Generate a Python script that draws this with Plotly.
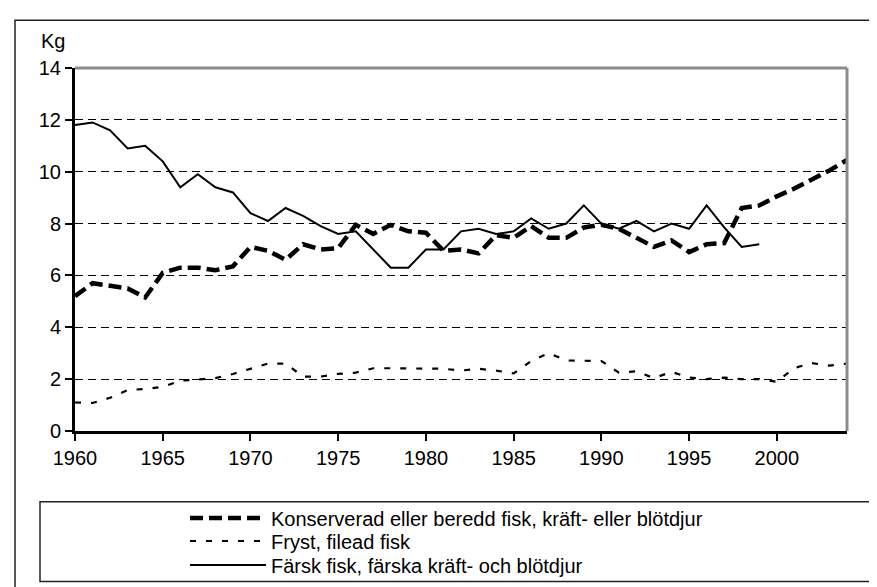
import plotly.graph_objects as go

years = list(range(1960, 2005))
years_fresh = list(range(1960, 2000))

konserverad = [5.2, 5.7, 5.6, 5.5, 5.15, 6.1, 6.3, 6.3, 6.2, 6.35,
               7.1, 6.95, 6.6, 7.2, 7.0, 7.05, 7.95, 7.6, 7.95, 7.7,
               7.65, 6.95, 7.0, 6.85, 7.55, 7.45, 7.9, 7.45, 7.45, 7.85,
               7.95, 7.8, 7.45, 7.1, 7.35, 6.9, 7.2, 7.25, 8.6, 8.7,
               9.05, 9.35, 9.7, 10.05, 10.45]

fryst = [1.1, 1.08, 1.28, 1.58, 1.62, 1.7, 1.94, 2.0, 2.04, 2.2,
         2.4, 2.6, 2.6, 2.1, 2.1, 2.2, 2.25, 2.42, 2.42, 2.42,
         2.42, 2.4, 2.33, 2.4, 2.33, 2.22, 2.7, 3.0, 2.72, 2.7,
         2.7, 2.25, 2.3, 2.04, 2.28, 2.06, 2.0, 2.06, 2.0, 2.0,
         1.9, 2.43, 2.62, 2.52, 2.6]

farsk = [11.8, 11.9, 11.6, 10.9, 11.0, 10.4, 9.4, 9.9, 9.4, 9.2,
         8.4, 8.1, 8.6, 8.3, 7.9, 7.6, 7.7, 7.0, 6.3, 6.3,
         7.0, 7.0, 7.7, 7.8, 7.6, 7.7, 8.2, 7.8, 8.0, 8.7,
         8.0, 7.8, 8.1, 7.7, 8.0, 7.8, 8.7, 7.85, 7.1, 7.2]

series_names = ["Konserverad eller beredd fisk, kräft- eller blötdjur",
                "Fryst, filead fisk",
                "Färsk fisk, färska kräft- och blötdjur"]

x_tick_vals = [1960, 1965, 1970, 1975, 1980, 1985, 1990, 1995, 2000]
y_tick_vals = [0, 2, 4, 6, 8, 10, 12, 14]
y_unit = "Kg"

FONT = "Liberation Sans, Arial, sans-serif"

# pixel geometry helpers
W, H = 877, 587
L, R, T, B = 67, 839, 60, 424


def px(xp):
    return (xp - L) / (R - L)


def py(yp):
    return (B - yp) / (B - T)


fig = go.Figure()
fig.add_trace(go.Scatter(x=years, y=konserverad, mode="lines", name=series_names[0],
                         line=dict(color="black", width=4.5, dash="13px,6px"),
                         legend="legend"))
fig.add_trace(go.Scatter(x=years, y=fryst, mode="lines", name=series_names[1],
                         line=dict(color="black", width=2.2, dash="6px,10px"),
                         legend="legend2"))
fig.add_trace(go.Scatter(x=years_fresh, y=farsk, mode="lines", name=series_names[2],
                         line=dict(color="black", width=2),
                         legend="legend3"))

leg_common = dict(font=dict(family=FONT, size=20, color="black"),
                  bgcolor="rgba(0,0,0,0)", borderwidth=0,
                  xanchor="left", yanchor="middle", itemwidth=76,
                  x=px(177))

fig.update_layout(
    width=W, height=H,
    margin=dict(l=L, r=W - R, t=T, b=H - B, pad=0),
    paper_bgcolor="white", plot_bgcolor="white",
    font=dict(family=FONT, size=20, color="black"),
    showlegend=True,
    legend=dict(**leg_common, y=py(510)),
    legend2=dict(**leg_common, y=py(533)),
    legend3=dict(**leg_common, y=py(557)),
    xaxis=dict(range=[1960, 2004], tickvals=x_tick_vals,
               ticks="outside", ticklen=7, tickwidth=2, tickcolor="black",
               showline=True, linecolor="black", linewidth=3,
               showgrid=False, zeroline=False,
               tickfont=dict(family=FONT, size=20, color="black")),
    yaxis=dict(range=[0, 14], tickvals=y_tick_vals,
               ticks="outside", ticklen=7, tickwidth=2, tickcolor="black",
               showline=True, linecolor="black", linewidth=3,
               showgrid=True, gridcolor="black", gridwidth=1, griddash="8px,5px",
               zeroline=False,
               tickfont=dict(family=FONT, size=20, color="black")),
    annotations=[dict(text=y_unit, xref="paper", yref="paper",
                      x=px(45), y=py(33), xanchor="center", yanchor="middle",
                      showarrow=False, font=dict(family=FONT, size=20, color="black"))],
    shapes=[
        # plot area top & right border (gray)
        dict(type="line", xref="paper", yref="paper", x0=0, x1=1, y0=1, y1=1,
             line=dict(color="#8c8c8c", width=3)),
        dict(type="line", xref="paper", yref="paper", x0=1, x1=1, y0=0, y1=1,
             line=dict(color="#8c8c8c", width=3)),
        # outer chart border
        dict(type="rect", xref="paper", yref="paper",
             x0=px(7), x1=px(890), y0=py(600), y1=py(12),
             line=dict(color="#222222", width=1.5), layer="above"),
        # legend box
        dict(type="rect", xref="paper", yref="paper",
             x0=px(32), x1=px(872), y0=py(575), y1=py(495),
             line=dict(color="#222222", width=1.5), layer="above"),
    ],
)

fig.write_html("out.html")
